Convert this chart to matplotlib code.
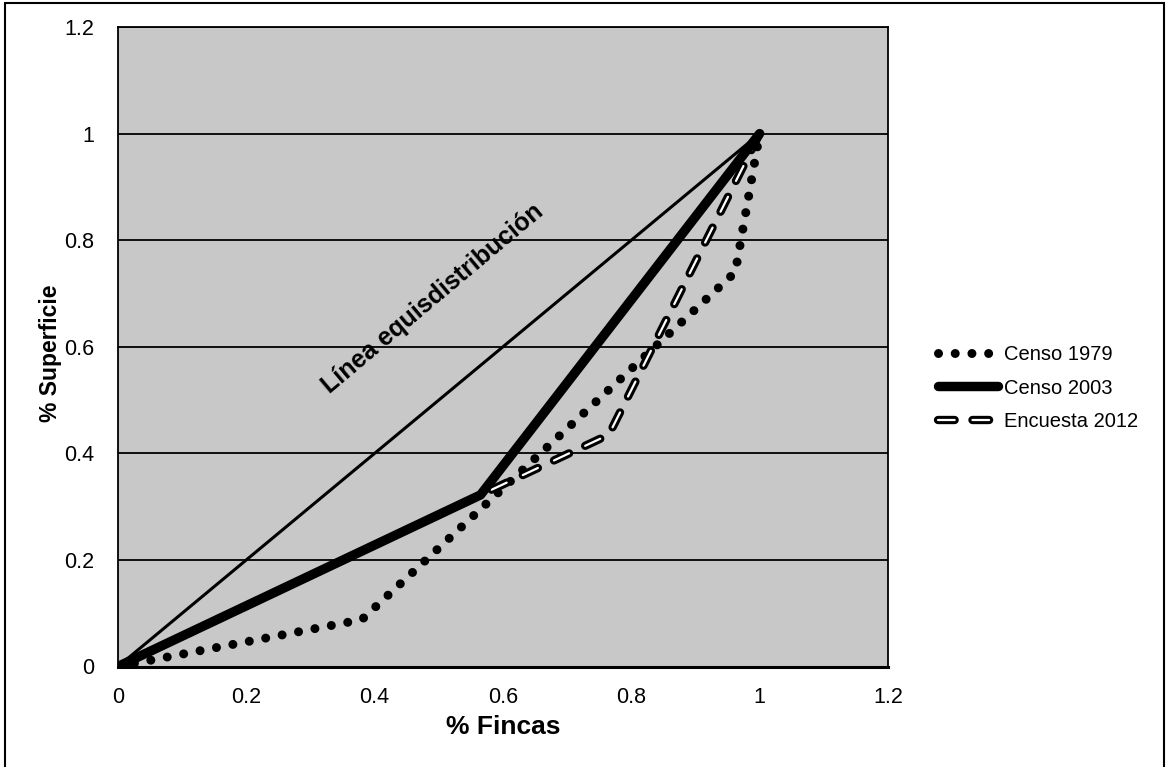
import matplotlib
matplotlib.use("Agg")
import matplotlib.pyplot as plt
import matplotlib.patheffects as pe
from matplotlib.patches import Rectangle

# ---- data ----
equi_x = [0, 1.0]
equi_y = [0, 1.0]

censo1979_x = [0, 0.38, 0.962, 1.0]
censo1979_y = [0, 0.088, 0.74, 1.0]

censo2003_x = [0, 0.565, 1.0]
censo2003_y = [0, 0.322, 1.0]

encuesta2012_x = [0, 0.565, 0.765, 1.0]
encuesta2012_y = [0, 0.322, 0.435, 1.0]

series_labels = ["Censo 1979", "Censo 2003", "Encuesta 2012"]
xticks = [0, 0.2, 0.4, 0.6, 0.8, 1.0, 1.2]
xtick_labels = ["0", "0.2", "0.4", "0.6", "0.8", "1", "1.2"]
yticks = [0, 0.2, 0.4, 0.6, 0.8, 1.0, 1.2]
ytick_labels = ["0", "0.2", "0.4", "0.6", "0.8", "1", "1.2"]

FONT = "Liberation Sans"
plt.rcParams["font.family"] = [FONT, "DejaVu Sans"]

fig = plt.figure(figsize=(11.68, 7.67), dpi=100)
W, H = 1168, 767
ax = fig.add_axes([118 / W, 1 - 666.5 / H, (888 - 118) / W, (666.5 - 27) / H])
ax.set_facecolor("#c8c8c8")
ax.set_xlim(0, 1.2)
ax.set_ylim(0, 1.2)

ax.set_yticks(yticks)
ax.set_yticklabels(ytick_labels)
ax.set_xticks(xticks)
ax.set_xticklabels(xtick_labels)
ax.yaxis.grid(True, color="black", linewidth=1.3)
ax.set_axisbelow(True)
ax.tick_params(axis="both", length=0, labelsize=15.5)
ax.tick_params(axis="y", pad=17)
ax.tick_params(axis="x", pad=15)
for s in ["left", "top", "right"]:
    ax.spines[s].set_linewidth(1.3)
    ax.spines[s].set_color("black")
ax.spines["bottom"].set_linewidth(2.2)

# equidistribution line
ax.plot(equi_x, equi_y, color="black", linewidth=2.2, zorder=3)

# Censo 1979 - round dots
l1979, = ax.plot(censo1979_x, censo1979_y, color="black", linewidth=6.5,
                 linestyle=(0, (0.001, 1.85)), dash_capstyle="round",
                 label=series_labels[0], zorder=4)

# Encuesta 2012 - hollow dashes
l2012, = ax.plot(encuesta2012_x, encuesta2012_y, color="white", linewidth=1.6,
                 linestyle=(0, (7.5, 8.0)), dash_capstyle="round",
                 label=series_labels[2], zorder=4.5,
                 path_effects=[pe.Stroke(linewidth=6.0, foreground="black",
                                         capstyle="round"), pe.Normal()])

# Censo 2003 - thick solid
l2003, = ax.plot(censo2003_x, censo2003_y, color="black", linewidth=6.8,
                 solid_capstyle="round", label=series_labels[1], zorder=5)

ax.text(0.49, 0.69, "Línea equisdistribución", rotation=40,
        rotation_mode="anchor", ha="center", va="center",
        fontsize=18, fontweight="bold", zorder=6)

ax.set_xlabel("% Fincas", fontsize=19, fontweight="bold")
ax.set_ylabel("% Superficie", fontsize=16.5, fontweight="bold")
ax.yaxis.set_label_coords(-0.073, 0.49)
ax.xaxis.set_label_coords(0.5, -0.076)

leg = fig.legend(handles=[l1979, l2003, l2012], labels=series_labels,
                 loc="center left", bbox_to_anchor=(928 / W, 1 - 388 / H),
                 frameon=False, fontsize=14.5, handlelength=3.0,
                 handletextpad=0.25, labelspacing=0.7, borderpad=0)

# outer chart border
fig.add_artist(Rectangle((5 / W, -0.05), (1164 - 5) / W, 1.05 - 3 / H,
                         transform=fig.transFigure, fill=False,
                         edgecolor="black", linewidth=1.5))

fig.savefig("out.png", dpi=100)
